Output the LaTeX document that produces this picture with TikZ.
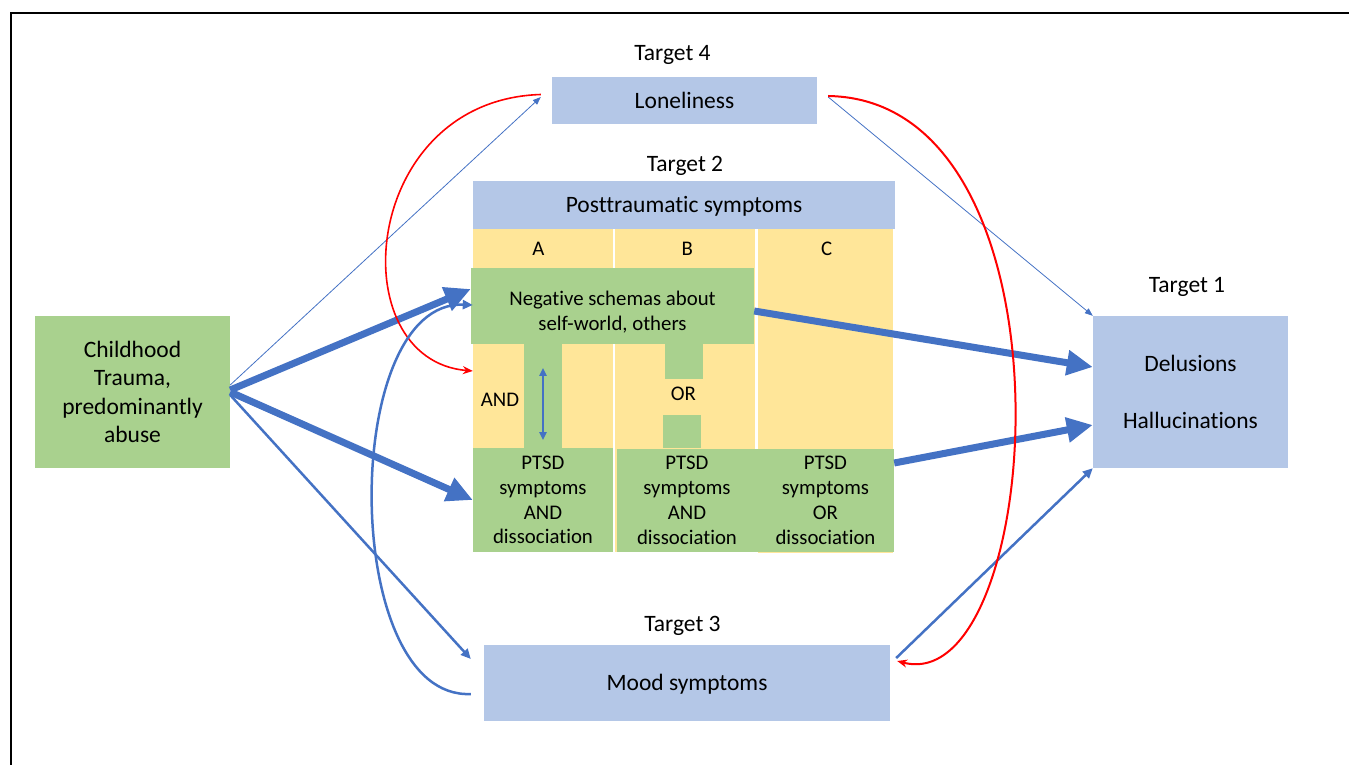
\documentclass[tikz,border=0pt]{standalone}
\usepackage{fontspec}
\setmainfont{Carlito}[Ligatures=NoCommon]
\usetikzlibrary{arrows.meta}

\definecolor{boxgreen}{HTML}{A9D18E}
\definecolor{boxblue}{HTML}{B4C7E7}
\definecolor{colyellow}{HTML}{FFE699}
\definecolor{linkblue}{HTML}{4472C4}

\begin{document}
\begin{tikzpicture}[x=1pt,y=-1pt,
    bigtext/.style={font=\fontsize{23.5}{28.3}\selectfont},
    smalltext/.style={font=\fontsize{20.8}{24.8}\selectfont},
    bigline/.style={text height=15.1pt,text depth=0pt},
    smallline/.style={text height=13.4pt,text depth=0pt},
    bluebox/.style={fill=boxblue,inner sep=0pt,align=center},
    greenbox/.style={fill=boxgreen,inner sep=0pt,align=center},
    yellowcol/.style={fill=colyellow,inner sep=0pt},
    heavy/.style={color=linkblue,line width=7pt,-{Triangle[length=26pt,width=24pt]}},
    medium/.style={color=linkblue,line width=2.5pt,-{Triangle[length=10pt,width=9pt]}},
    fine/.style={color=linkblue,line width=0.8pt,-{Triangle[length=8pt,width=6pt]}},
    twoway/.style={color=linkblue,line width=2pt,{Triangle[length=8pt,width=7pt]}-{Triangle[length=8pt,width=7pt]}},
    redloop/.style={color=red,line width=1.6pt,-{Stealth[length=10pt,width=8pt]}}]
        % Frame
        \useasboundingbox (0,0) rectangle (1349,765);
        \clip (0,0) rectangle (1349,765);
        \draw[line width=2.7pt] (11,780) -- (11,13) -- (1360,13);
        % Target 2 columns
        \node[yellowcol,minimum width=140pt,minimum height=323pt] (colA) at (543,390.5) {};
        \node[yellowcol,minimum width=140pt,minimum height=323pt] (colB) at (685,390.5) {};
        \node[yellowcol,minimum width=135pt,minimum height=324pt] (colC) at (825.5,391) {};
        \node[bluebox,bigtext,bigline,minimum width=422pt,minimum height=48pt] (ptsd) at (684,205) {Posttraumatic symptoms};
        \node[smalltext,smallline] (labA) at (538.3,248.8) {A};
        \node[smalltext,smallline] (labB) at (687.3,248.8) {B};
        \node[smalltext,smallline] (labC) at (826.7,248.8) {C};
        % Target 2 green parts
        \node[greenbox,minimum width=38pt,minimum height=104pt] (stemA) at (543,396) {};
        \node[greenbox,minimum width=38pt,minimum height=35pt] (stemBtop) at (684,361.5) {};
        \node[greenbox,minimum width=38pt,minimum height=33pt] (stemBbot) at (682,431.5) {};
        \node[greenbox,smalltext,minimum width=283pt,minimum height=76pt] (schema) at (612.5,306) {\rule{0pt}{26pt}Negative schemas about\\self-world, others};
        \node[greenbox,smalltext,minimum width=140pt,minimum height=104pt] (ptsdA) at (543,500) {PTSD\\symptoms\\AND\\dissociation};
        \node[greenbox,smalltext,minimum width=140pt,minimum height=103pt] (ptsdB) at (687,500.5) {PTSD\\symptoms\\AND\\dissociation};
        \node[greenbox,smalltext,minimum width=137pt,minimum height=103pt] (ptsdC) at (825.5,500.5) {PTSD\\symptoms\\OR\\dissociation};
        \node[smalltext,smallline] (andlab) at (500,399.3) {AND};
        \node[smalltext,smallline] (orlab) at (683.3,393.3) {OR};
        % Other boxes
        \node[greenbox,bigtext,minimum width=195pt,minimum height=152pt] (trauma) at (132.5,392) {Childhood\\Trauma,\\predominantly\\abuse};
        \node[bluebox,bigtext,minimum width=195pt,minimum height=152pt] (psychosis) at (1190.5,392) {Delusions\\[28.7pt]Hallucinations};
        \node[bluebox,bigtext,bigline,minimum width=265pt,minimum height=47pt] (lonely) at (684.5,100.5) {Loneliness};
        \node[bluebox,bigtext,bigline,minimum width=406pt,minimum height=76pt] (mood) at (687,683) {Mood symptoms};
        % Target labels
        \node[bigtext,bigline] (t4) at (672.5,53.3) {Target 4};
        \node[bigtext,bigline] (t2) at (685,164.2) {Target 2};
        \node[bigtext,bigline] (t1) at (1187,285) {Target 1};
        \node[bigtext,bigline] (t3) at (682.5,623.5) {Target 3};
        % Paths from childhood trauma
        \draw[heavy] ([yshift=2pt]trauma.east) -- ([yshift=17pt]schema.west);
        \draw[heavy] (trauma.east) -- (ptsdA.west);
        \draw[fine] ([yshift=7pt]trauma.east) -- ([xshift=-11pt,yshift=3.5pt]lonely.west);
        \draw[medium] ([yshift=-3pt]trauma.east) -- ([xshift=-13pt,yshift=24pt]mood.west);
        % Paths to psychosis
        \draw[heavy] ([yshift=-5pt]schema.east) -- ([yshift=25pt]psychosis.west);
        \draw[heavy] ([yshift=37.5pt]ptsdC.east) -- ([yshift=-33pt]psychosis.west);
        \draw[fine] ([xshift=11pt,yshift=3.5pt]lonely.east) -- (psychosis.north west);
        \draw[medium] ([xshift=6pt,yshift=25pt]mood.east) -- (psychosis.south west);
        % Feedback loops
        \draw[redloop] ([xshift=-11pt,yshift=6pt]lonely.west) .. controls +(-181,5.5) and +(-133,-11) .. ([yshift=19.5pt]colA.west);
        \draw[redloop,line width=2pt] ([xshift=11pt,yshift=4.5pt]lonely.east) .. controls +(257,4) and +(148,39) .. ([xshift=7pt,yshift=22pt]mood.east);
        \draw[medium] ([xshift=-13pt,yshift=-11pt]mood.west) .. controls +(-131,6) and +(-133,-5) .. ([xshift=2pt,yshift=1pt]schema.west);
        % Within target 2
        \draw[twoway] ([yshift=-24pt]stemA.north) -- ([yshift=8pt]stemA.south);
\end{tikzpicture}
\end{document}
